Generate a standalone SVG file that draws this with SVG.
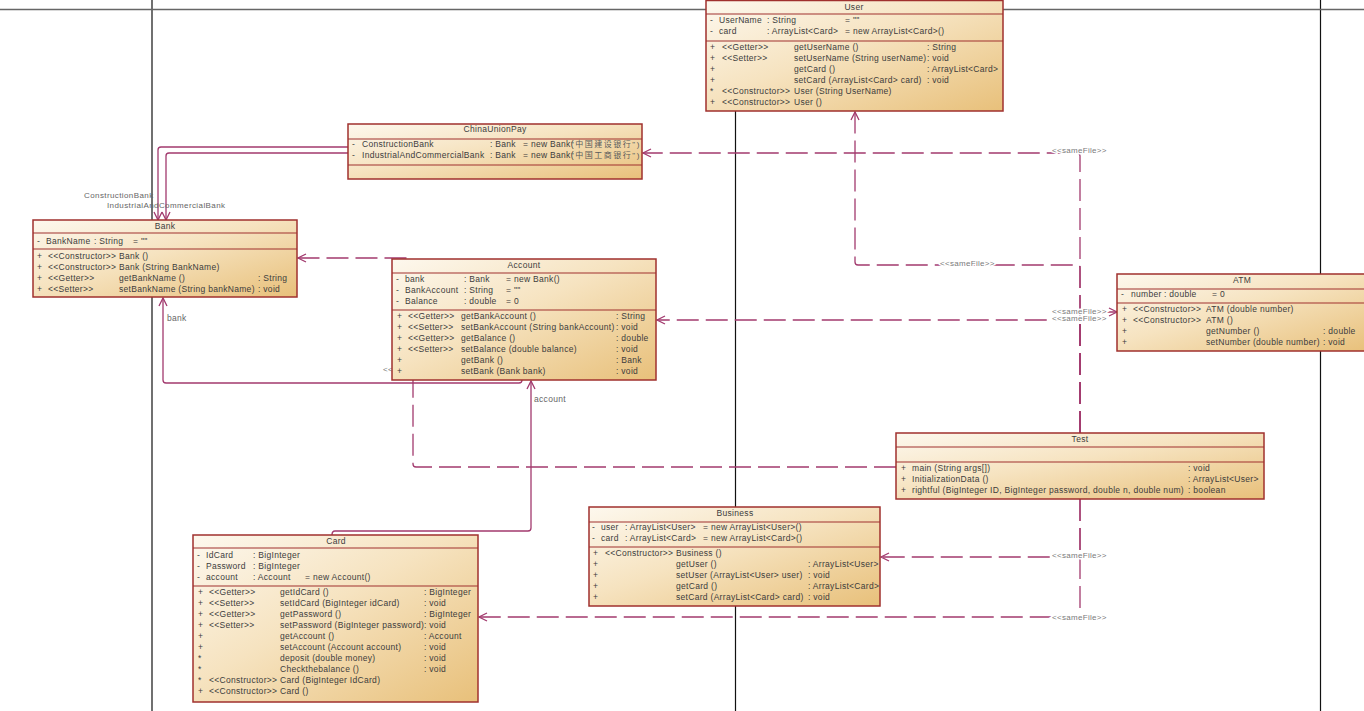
<svg xmlns="http://www.w3.org/2000/svg" width="1364" height="711" viewBox="0 0 1364 711">
<defs>
<linearGradient id="g" x1="0" y1="0" x2="1" y2="1">
<stop offset="0" stop-color="#fdf8ee"/>
<stop offset="0.45" stop-color="#f6e3c0"/>
<stop offset="1" stop-color="#e8c07a"/>
</linearGradient>
<marker id="a" viewBox="-10 -6 12 12" refX="0" refY="0" markerWidth="12" markerHeight="12" markerUnits="userSpaceOnUse" orient="auto">
<path d="M-8,-4 L0,0 L-8,4" fill="none" stroke="#a23a6e" stroke-width="1.3"/>
</marker>
<clipPath id="cupclip"><rect x="348" y="124" width="293" height="55"/></clipPath>
<style>
.box{fill:url(#g);stroke:#a0302e;stroke-width:1.5}
.sep{stroke:#a0302e;stroke-width:1.2}
.t{font-family:"Liberation Sans",Arial,sans-serif;font-size:8.5px;letter-spacing:0.3px;fill:#3c3c3c}
.ti{font-family:"Liberation Sans",Arial,sans-serif;font-size:8.5px;letter-spacing:0.3px;fill:#3c3c3c;text-anchor:middle}
.cjk{font-family:"Liberation Sans","Noto Sans CJK SC",sans-serif;font-size:8px;letter-spacing:1.5px;fill:#5a5a5a}
.c{fill:none;stroke:#a23a6e;stroke-width:1.3}
.d{stroke-dasharray:22 7}
.lbl{font-family:"Liberation Sans",Arial,sans-serif;font-size:8px;letter-spacing:0.3px;fill:#7a7a7a;stroke:#fff;stroke-width:3;paint-order:stroke}
.rl{font-family:"Liberation Sans",Arial,sans-serif;font-size:8.5px;letter-spacing:0.3px;fill:#666}
.rs{font-family:"Liberation Sans",Arial,sans-serif;font-size:8px;letter-spacing:0.4px;fill:#666}
.bg{stroke:#111;stroke-width:1.2}
</style>
</defs>
<rect x="0" y="0" width="1364" height="711" fill="#fff"/>
<g id="background">
<line class="bg" x1="152" y1="0" x2="152" y2="711"/>
<line class="bg" x1="735.5" y1="0" x2="735.5" y2="711"/>
<line class="bg" x1="1320.5" y1="0" x2="1320.5" y2="711"/>
<line x1="0" y1="9.5" x2="1364" y2="9.5" stroke="#666" stroke-width="1.6"/>
</g>
<g id="connectors">
<path class="c" d="M348,147 H161 Q158,147 158,150 V220" marker-end="url(#a)"/>
<path class="c" d="M348,153 H169 Q166,153 166,156 V220" marker-end="url(#a)"/>
<path class="c" d="M522,380 Q522,383 519,383 H166 Q163,383 163,380 V298" marker-end="url(#a)"/>
<path class="c" d="M332,535 Q332,531 335,531 H528 Q531,531 531,528 V381" marker-end="url(#a)"/>
<path class="c d" d="M1080,433 V156 Q1080,153 1077,153 H643" marker-end="url(#a)"/>
<path class="c d" d="M1080,433 V268 Q1080,265 1077,265 H858 Q855,265 855,262 V112" marker-end="url(#a)"/>
<path class="c d" d="M1080,433 V315 Q1080,312 1083,312 H1117" marker-end="url(#a)"/>
<path class="c d" d="M1080,433 V323 Q1080,320 1077,320 H657" marker-end="url(#a)"/>
<path class="c d" d="M896,467 H416 Q413,467 413,464 V261 Q413,258 410,258 H298" marker-end="url(#a)"/>
<path class="c d" d="M1080,499 V554 Q1080,557 1077,557 H881" marker-end="url(#a)"/>
<path class="c d" d="M1080,499 V614 Q1080,617 1077,617 H479" marker-end="url(#a)"/>
<text class="rs" x="84" y="198">ConstructionBank</text>
<text class="rs" x="107" y="208">IndustrialAndCommercialBank</text>
<text class="rl" x="167" y="321">bank</text>
<text class="rl" x="534" y="402">account</text>
<text class="lbl" x="1052" y="153">&lt;&lt;sameFile&gt;&gt;</text>
<text class="lbl" x="940" y="266">&lt;&lt;sameFile&gt;&gt;</text>
<text class="lbl" x="1052" y="314">&lt;&lt;sameFile&gt;&gt;</text>
<text class="lbl" x="1052" y="321">&lt;&lt;sameFile&gt;&gt;</text>
<text class="lbl" x="1052" y="558">&lt;&lt;sameFile&gt;&gt;</text>
<text class="lbl" x="1052" y="620">&lt;&lt;sameFile&gt;&gt;</text>
<text class="lbl" x="383" y="372">&lt;&lt;</text>
</g>

<g id="User">
<rect class="box" x="706" y="0.5" width="297" height="110.5"/>
<line class="sep" x1="706" y1="14" x2="1003" y2="14"/>
<line class="sep" x1="706" y1="41" x2="1003" y2="41"/>
<text class="ti" x="854" y="10">User</text>
<text class="t" y="23"><tspan x="710">-</tspan><tspan x="719">UserName</tspan><tspan x="767">: String</tspan><tspan x="845">= ""</tspan></text>
<text class="t" y="34"><tspan x="710">-</tspan><tspan x="719">card</tspan><tspan x="767">: ArrayList&lt;Card&gt;</tspan><tspan x="845">= new ArrayList&lt;Card&gt;()</tspan></text>
<text class="t" y="50"><tspan x="710">+</tspan><tspan x="722">&lt;&lt;Getter&gt;&gt;</tspan><tspan x="794">getUserName ()</tspan><tspan x="927">: String</tspan></text>
<text class="t" y="61"><tspan x="710">+</tspan><tspan x="722">&lt;&lt;Setter&gt;&gt;</tspan><tspan x="794">setUserName (String userName)</tspan><tspan x="927">: void</tspan></text>
<text class="t" y="72"><tspan x="710">+</tspan><tspan x="794">getCard ()</tspan><tspan x="927">: ArrayList&lt;Card&gt;</tspan></text>
<text class="t" y="83"><tspan x="710">+</tspan><tspan x="794">setCard (ArrayList&lt;Card&gt; card)</tspan><tspan x="927">: void</tspan></text>
<text class="t" y="94"><tspan x="710">*</tspan><tspan x="722">&lt;&lt;Constructor&gt;&gt;</tspan><tspan x="794">User (String UserName)</tspan></text>
<text class="t" y="105"><tspan x="710">+</tspan><tspan x="722">&lt;&lt;Constructor&gt;&gt;</tspan><tspan x="794">User ()</tspan></text>
</g>

<g id="ChinaUnionPay">
<rect class="box" x="348" y="124" width="294" height="55"/>
<line class="sep" x1="348" y1="139" x2="642" y2="139"/>
<line class="sep" x1="348" y1="165" x2="642" y2="165"/>
<text class="ti" x="495" y="132">ChinaUnionPay</text>
<g clip-path="url(#cupclip)">
<text class="t" y="147"><tspan x="352">-</tspan><tspan x="362">ConstructionBank</tspan><tspan x="490">: Bank</tspan><tspan x="523">= new Bank(</tspan></text>
<text class="cjk" x="571" y="147">"中国建设银行")</text>
<text class="t" y="158"><tspan x="352">-</tspan><tspan x="362">IndustrialAndCommercialBank</tspan><tspan x="490">: Bank</tspan><tspan x="523">= new Bank(</tspan></text>
<text class="cjk" x="571" y="158">"中国工商银行")</text>
</g>
</g>

<g id="Bank">
<rect class="box" x="33" y="220" width="264" height="77"/>
<line class="sep" x1="33" y1="233" x2="297" y2="233"/>
<line class="sep" x1="33" y1="249" x2="297" y2="249"/>
<text class="ti" x="165" y="229">Bank</text>
<text class="t" y="244"><tspan x="37">-</tspan><tspan x="46">BankName</tspan><tspan x="94">: String</tspan><tspan x="133">= ""</tspan></text>
<text class="t" y="259"><tspan x="37">+</tspan><tspan x="48">&lt;&lt;Constructor&gt;&gt;</tspan><tspan x="119">Bank ()</tspan></text>
<text class="t" y="270"><tspan x="37">+</tspan><tspan x="48">&lt;&lt;Constructor&gt;&gt;</tspan><tspan x="119">Bank (String BankName)</tspan></text>
<text class="t" y="281"><tspan x="37">+</tspan><tspan x="48">&lt;&lt;Getter&gt;&gt;</tspan><tspan x="119">getBankName ()</tspan><tspan x="258">: String</tspan></text>
<text class="t" y="292"><tspan x="37">+</tspan><tspan x="48">&lt;&lt;Setter&gt;&gt;</tspan><tspan x="119">setBankName (String bankName)</tspan><tspan x="258">: void</tspan></text>
</g>

<g id="Account">
<rect class="box" x="392" y="259" width="264" height="121"/>
<line class="sep" x1="392" y1="273" x2="656" y2="273"/>
<line class="sep" x1="392" y1="310" x2="656" y2="310"/>
<text class="ti" x="524" y="268">Account</text>
<text class="t" y="282"><tspan x="396">-</tspan><tspan x="405">bank</tspan><tspan x="464">: Bank</tspan><tspan x="506">= new Bank()</tspan></text>
<text class="t" y="293"><tspan x="396">-</tspan><tspan x="405">BankAccount</tspan><tspan x="464">: String</tspan><tspan x="506">= ""</tspan></text>
<text class="t" y="304"><tspan x="396">-</tspan><tspan x="405">Balance</tspan><tspan x="464">: double</tspan><tspan x="506">= 0</tspan></text>
<text class="t" y="319"><tspan x="397">+</tspan><tspan x="408">&lt;&lt;Getter&gt;&gt;</tspan><tspan x="461">getBankAccount ()</tspan><tspan x="616">: String</tspan></text>
<text class="t" y="330"><tspan x="397">+</tspan><tspan x="408">&lt;&lt;Setter&gt;&gt;</tspan><tspan x="461">setBankAccount (String bankAccount)</tspan><tspan x="616">: void</tspan></text>
<text class="t" y="341"><tspan x="397">+</tspan><tspan x="408">&lt;&lt;Getter&gt;&gt;</tspan><tspan x="461">getBalance ()</tspan><tspan x="616">: double</tspan></text>
<text class="t" y="352"><tspan x="397">+</tspan><tspan x="408">&lt;&lt;Setter&gt;&gt;</tspan><tspan x="461">setBalance (double balance)</tspan><tspan x="616">: void</tspan></text>
<text class="t" y="363"><tspan x="397">+</tspan><tspan x="461">getBank ()</tspan><tspan x="616">: Bank</tspan></text>
<text class="t" y="374"><tspan x="397">+</tspan><tspan x="461">setBank (Bank bank)</tspan><tspan x="616">: void</tspan></text>
</g>

<g id="ATM">
<rect class="box" x="1117" y="274" width="252" height="77"/>
<line class="sep" x1="1117" y1="289" x2="1369" y2="289"/>
<line class="sep" x1="1117" y1="303" x2="1369" y2="303"/>
<text class="ti" x="1242" y="283">ATM</text>
<text class="t" y="297"><tspan x="1121">-</tspan><tspan x="1131">number</tspan><tspan x="1164">: double</tspan><tspan x="1212">= 0</tspan></text>
<text class="t" y="312"><tspan x="1122">+</tspan><tspan x="1133">&lt;&lt;Constructor&gt;&gt;</tspan><tspan x="1206">ATM (double number)</tspan></text>
<text class="t" y="323"><tspan x="1122">+</tspan><tspan x="1133">&lt;&lt;Constructor&gt;&gt;</tspan><tspan x="1206">ATM ()</tspan></text>
<text class="t" y="334"><tspan x="1122">+</tspan><tspan x="1206">getNumber ()</tspan><tspan x="1323">: double</tspan></text>
<text class="t" y="345"><tspan x="1122">+</tspan><tspan x="1206">setNumber (double number)</tspan><tspan x="1323">: void</tspan></text>
</g>

<g id="Test">
<rect class="box" x="896" y="433" width="368" height="66"/>
<line class="sep" x1="896" y1="447" x2="1264" y2="447"/>
<line class="sep" x1="896" y1="462" x2="1264" y2="462"/>
<text class="ti" x="1080" y="442">Test</text>
<text class="t" y="471"><tspan x="901">+</tspan><tspan x="912">main (String args[])</tspan><tspan x="1188">: void</tspan></text>
<text class="t" y="482"><tspan x="901">+</tspan><tspan x="912">InitializationData ()</tspan><tspan x="1188">: ArrayList&lt;User&gt;</tspan></text>
<text class="t" y="493"><tspan x="901">+</tspan><tspan x="912">rightful (BigInteger ID, BigInteger password, double n, double num)</tspan><tspan x="1188">: boolean</tspan></text>
</g>

<g id="Business">
<rect class="box" x="589" y="507" width="291" height="99"/>
<line class="sep" x1="589" y1="522" x2="880" y2="522"/>
<line class="sep" x1="589" y1="547" x2="880" y2="547"/>
<text class="ti" x="735" y="516">Business</text>
<text class="t" y="530"><tspan x="592">-</tspan><tspan x="601">user</tspan><tspan x="625">: ArrayList&lt;User&gt;</tspan><tspan x="703">= new ArrayList&lt;User&gt;()</tspan></text>
<text class="t" y="541"><tspan x="592">-</tspan><tspan x="601">card</tspan><tspan x="625">: ArrayList&lt;Card&gt;</tspan><tspan x="703">= new ArrayList&lt;Card&gt;()</tspan></text>
<text class="t" y="556"><tspan x="593">+</tspan><tspan x="605">&lt;&lt;Constructor&gt;&gt;</tspan><tspan x="676">Business ()</tspan></text>
<text class="t" y="567"><tspan x="593">+</tspan><tspan x="676">getUser ()</tspan><tspan x="808">: ArrayList&lt;User&gt;</tspan></text>
<text class="t" y="578"><tspan x="593">+</tspan><tspan x="676">setUser (ArrayList&lt;User&gt; user)</tspan><tspan x="808">: void</tspan></text>
<text class="t" y="589"><tspan x="593">+</tspan><tspan x="676">getCard ()</tspan><tspan x="808">: ArrayList&lt;Card&gt;</tspan></text>
<text class="t" y="600"><tspan x="593">+</tspan><tspan x="676">setCard (ArrayList&lt;Card&gt; card)</tspan><tspan x="808">: void</tspan></text>
</g>

<g id="Card">
<rect class="box" x="193" y="535" width="285" height="167"/>
<line class="sep" x1="193" y1="548" x2="478" y2="548"/>
<line class="sep" x1="193" y1="586" x2="478" y2="586"/>
<text class="ti" x="336" y="544">Card</text>
<text class="t" y="558"><tspan x="197">-</tspan><tspan x="206">IdCard</tspan><tspan x="253">: BigInteger</tspan></text>
<text class="t" y="569"><tspan x="197">-</tspan><tspan x="206">Password</tspan><tspan x="253">: BigInteger</tspan></text>
<text class="t" y="580"><tspan x="197">-</tspan><tspan x="206">account</tspan><tspan x="253">: Account</tspan><tspan x="305">= new Account()</tspan></text>
<text class="t" y="595"><tspan x="198">+</tspan><tspan x="209">&lt;&lt;Getter&gt;&gt;</tspan><tspan x="280">getIdCard ()</tspan><tspan x="424">: BigInteger</tspan></text>
<text class="t" y="606"><tspan x="198">+</tspan><tspan x="209">&lt;&lt;Setter&gt;&gt;</tspan><tspan x="280">setIdCard (BigInteger idCard)</tspan><tspan x="424">: void</tspan></text>
<text class="t" y="617"><tspan x="198">+</tspan><tspan x="209">&lt;&lt;Getter&gt;&gt;</tspan><tspan x="280">getPassword ()</tspan><tspan x="424">: BigInteger</tspan></text>
<text class="t" y="628"><tspan x="198">+</tspan><tspan x="209">&lt;&lt;Setter&gt;&gt;</tspan><tspan x="280">setPassword (BigInteger password)</tspan><tspan x="424">: void</tspan></text>
<text class="t" y="639"><tspan x="198">+</tspan><tspan x="280">getAccount ()</tspan><tspan x="424">: Account</tspan></text>
<text class="t" y="650"><tspan x="198">+</tspan><tspan x="280">setAccount (Account account)</tspan><tspan x="424">: void</tspan></text>
<text class="t" y="661"><tspan x="198">*</tspan><tspan x="280">deposit (double money)</tspan><tspan x="424">: void</tspan></text>
<text class="t" y="672"><tspan x="198">*</tspan><tspan x="280">Checkthebalance ()</tspan><tspan x="424">: void</tspan></text>
<text class="t" y="683"><tspan x="198">*</tspan><tspan x="209">&lt;&lt;Constructor&gt;&gt;</tspan><tspan x="280">Card (BigInteger IdCard)</tspan></text>
<text class="t" y="694"><tspan x="198">+</tspan><tspan x="209">&lt;&lt;Constructor&gt;&gt;</tspan><tspan x="280">Card ()</tspan></text>
</g>
</svg>
